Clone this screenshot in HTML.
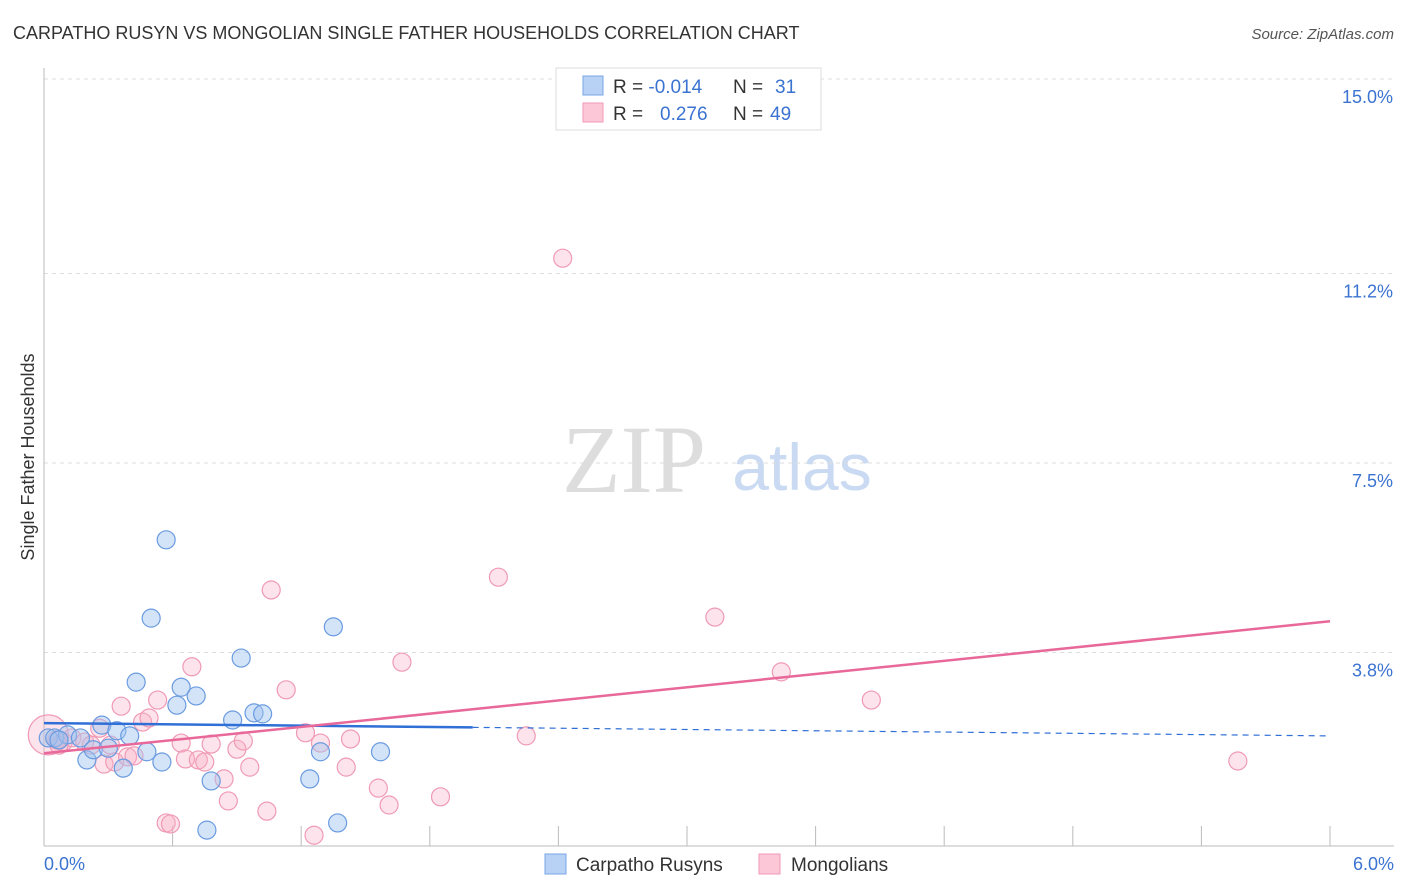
<!DOCTYPE html>
<html><head><meta charset="utf-8"><style>
body{margin:0;background:#fff;font-family:"Liberation Sans",sans-serif;}
svg{display:block}
</style></head><body>
<svg id="chart" width="1406" height="892">
<text x="13" y="39" font-size="18" fill="#333">CARPATHO RUSYN VS MONGOLIAN SINGLE FATHER HOUSEHOLDS CORRELATION CHART</text>
<text x="1394" y="39" font-size="15" fill="#555" text-anchor="end" font-style="italic">Source: ZipAtlas.com</text>
<text x="634" y="492" font-size="96" fill="#ddd" font-family="Liberation Serif,serif" text-anchor="middle">ZIP</text>
<text x="802" y="490" font-size="66" fill="#c9daf2" text-anchor="middle">atlas</text>
<g id="grid"></g><g id="axes"></g><g id="marks"></g>
<text transform="translate(34,457) rotate(-90)" font-size="18" fill="#333" text-anchor="middle">Single Father Households</text>
<text x="44" y="870" font-size="18" fill="#3b73d1">0.0%</text>
<text x="1394" y="870" font-size="18" fill="#3b73d1" text-anchor="end">6.0%</text>
<g>
<rect x="556" y="68" width="265" height="62" fill="#fff" stroke="#ddd"/>
<rect x="583" y="76" width="20" height="19" fill="#b8d2f6" stroke="#7aa5e6"/>
<rect x="583" y="103" width="20" height="19" fill="#fcc8d7" stroke="#f09ab5"/>
<text x="613" y="93" font-size="19" fill="#333">R = <tspan fill="#3b73d1">-0.014</tspan><tspan x="733">N = </tspan><tspan x="775" fill="#3b73d1">31</tspan></text>
<text x="613" y="120" font-size="19" fill="#333">R = <tspan x="660" fill="#3b73d1">0.276</tspan><tspan x="733">N = </tspan><tspan x="770" fill="#3b73d1">49</tspan></text>
</g>
<g>
<rect x="545" y="854" width="21" height="20" fill="#b8d2f6" stroke="#7aa5e6"/>
<text x="576" y="871" font-size="19" fill="#333">Carpatho Rusyns</text>
<rect x="759" y="854" width="21" height="20" fill="#fcc8d7" stroke="#f09ab5"/>
<text x="791" y="871" font-size="19" fill="#333">Mongolians</text>
</g>
</svg>
<script>
const yTicks=[3.8,7.5,11.2,15.0];
const yTickLabels=["3.8%","7.5%","11.2%","15.0%"];
const blueX=[0.02,0.05,0.11,0.17,0.20,0.23,0.27,0.30,0.34,0.37,0.40,0.43,0.48,0.50,0.55,0.57,0.62,0.64,0.71,0.76,0.78,0.88,0.92,0.98,1.02,1.24,1.29,1.35,1.37,1.57,0.07];
const blueY=[2.13,2.13,2.19,2.13,1.70,1.90,2.38,1.93,2.27,1.54,2.17,3.22,1.86,4.47,1.66,6.00,2.77,3.12,2.95,0.33,1.29,2.48,3.69,2.62,2.60,1.33,1.86,4.30,0.47,1.86,2.09];
const pinkX=[0.02,0.06,0.09,0.13,0.19,0.22,0.26,0.28,0.33,0.36,0.39,0.42,0.46,0.49,0.53,0.57,0.59,0.64,0.66,0.69,0.72,0.75,0.78,0.84,0.86,0.90,0.93,0.96,1.04,1.06,1.13,1.22,1.26,1.29,1.41,1.43,1.56,1.61,1.67,1.85,2.12,2.25,2.42,3.13,3.44,3.86,5.57,0.07,0.31];
const pinkY=[2.19,2.09,2.05,2.13,2.05,1.99,2.32,1.62,1.66,2.75,1.76,1.78,2.44,2.52,2.87,0.47,0.45,2.03,1.72,3.52,1.70,1.66,2.01,1.33,0.90,1.91,2.07,1.56,0.70,5.02,3.07,2.23,0.23,2.03,1.56,2.11,1.15,0.82,3.61,0.98,5.27,2.17,11.50,4.49,3.42,2.87,1.68,1.99,1.99];
const blueTrend=[2.42,2.17];
const pinkTrend=[1.83,4.41];
const blueSolidEnd=2.0;

const NS="http://www.w3.org/2000/svg";
const X0=44,X1=1330,Y0=847,YPX=192/3.75;
const sx=v=>X0+(X1-X0)*v/6;
const sy=v=>Y0-v*YPX;
function mk(tag,attrs,parent){const e=document.createElementNS(NS,tag);for(const k in attrs)e.setAttribute(k,attrs[k]);parent.appendChild(e);return e;}
const grid=document.getElementById('grid'),axes=document.getElementById('axes'),marks=document.getElementById('marks');
yTicks.forEach((t,i)=>{
 const ln=mk('line',{x1:44,x2:1394,y1:sy(t),y2:sy(t),stroke:'#ddd','stroke-dasharray':'4,4'},grid);
 
 
 const tx=mk('text',{x:1393,y:sy(t)+24,'font-size':18,fill:'#3b73d1','text-anchor':'end'},grid);
 tx.textContent=yTickLabels[i];
 
 
});
const ax=mk('line',{x1:44,x2:44,y1:68,y2:846,stroke:'#bbb'},axes);


const bx=mk('line',{x1:44,x2:1394,y1:846,y2:846,stroke:'#bbb'},axes);


for(let i=1;i<=10;i++){const v=i*0.6;
 const tk=mk('line',{x1:sx(v),x2:sx(v),y1:826,y2:846,stroke:'#bbb'},axes);
 
 
}
pinkX.forEach((x,i)=>{
 const c=mk('circle',{cx:sx(x),cy:sy(pinkY[i]),r:i===0?20:9,fill:'rgba(248,175,198,0.35)',stroke:'#f09ab5','stroke-width':1.2},marks);
 
 
});
blueX.forEach((x,i)=>{
 const c=mk('circle',{cx:sx(x),cy:sy(blueY[i]),r:9,fill:'rgba(160,195,240,0.45)',stroke:'#6a9be0','stroke-width':1.2},marks);
 
 
});
const bAt=v=>blueTrend[0]+(blueTrend[1]-blueTrend[0])*v/6;
const l1=mk('line',{x1:sx(0),y1:sy(bAt(0)),x2:sx(blueSolidEnd),y2:sy(bAt(blueSolidEnd)),stroke:'#2f6fd6','stroke-width':2.5},marks);


const l2=mk('line',{x1:sx(blueSolidEnd),y1:sy(bAt(blueSolidEnd)),x2:sx(6),y2:sy(bAt(6)),stroke:'#2f6fd6','stroke-width':1.2,'stroke-dasharray':'6,5'},marks);


const l3=mk('line',{x1:sx(0),y1:sy(pinkTrend[0]),x2:sx(6),y2:sy(pinkTrend[1]),stroke:'#e8689a','stroke-width':2.5},marks);


</script>
</body></html>
